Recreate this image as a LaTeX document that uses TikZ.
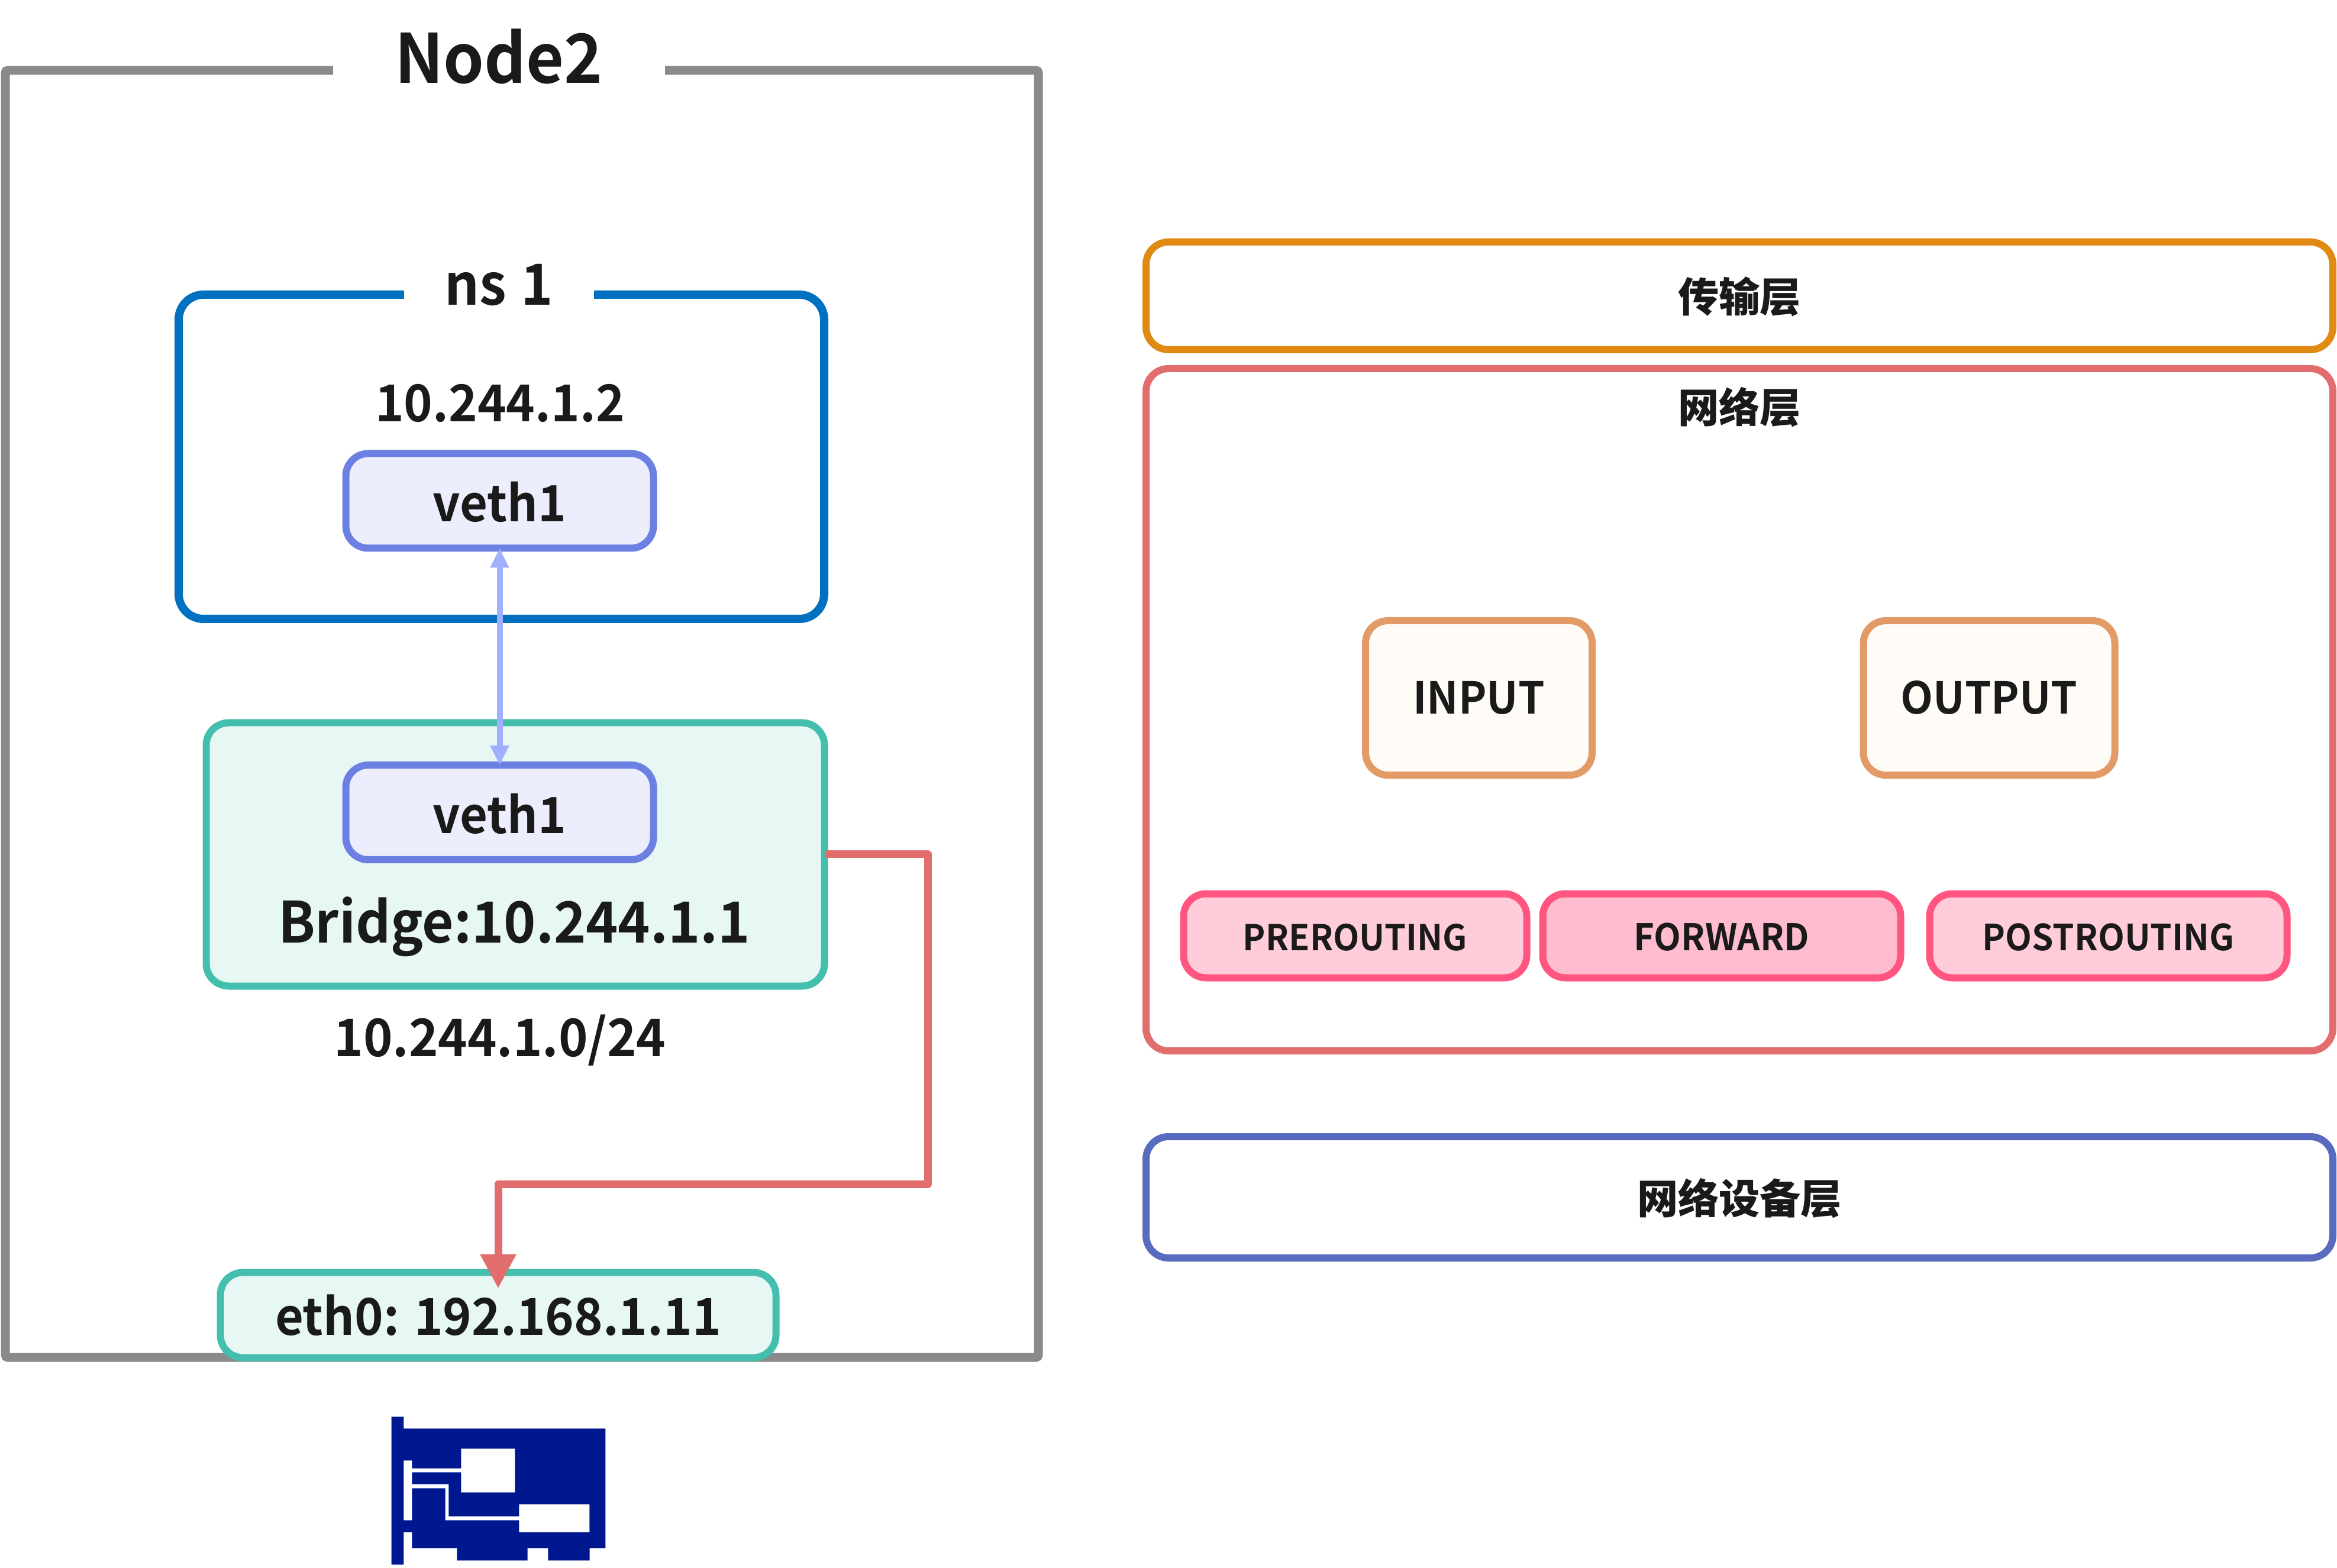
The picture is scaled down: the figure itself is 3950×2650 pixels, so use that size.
\documentclass[tikz,border=0pt]{standalone}
\usepackage{fontspec}
\setmainfont[BoldFont={Noto Sans CJK SC Bold},BoldFeatures={FakeStretch=0.96}]{Noto Sans CJK SC}
\newfontfamily\cjkfont{Noto Sans CJK SC}
\usetikzlibrary{arrows.meta}
\definecolor{inkc}{HTML}{1A1A1A}
\definecolor{framec}{HTML}{8A8A8A}
\definecolor{nsc}{HTML}{0070C0}
\definecolor{vethc}{HTML}{6C80E4}
\definecolor{vethf}{HTML}{ECEEFD}
\definecolor{tealc}{HTML}{45BFAD}
\definecolor{tealf}{HTML}{E7F7F3}
\definecolor{redc}{HTML}{E26D6D}
\definecolor{linkc}{HTML}{A0AFFF}
\definecolor{orangec}{HTML}{E08A14}
\definecolor{bluec}{HTML}{586BBE}
\definecolor{chainc}{HTML}{E29A66}
\definecolor{chainf}{HTML}{FFFCF7}
\definecolor{hookc}{HTML}{FF5580}
\definecolor{hookf}{HTML}{FFCCD9}
\definecolor{hookg}{HTML}{FFBCCE}
\definecolor{nicc}{HTML}{00188F}
\tikzset{
  txt/.style={text=inkc,font=\bfseries\fontsize{21.5}{26}\selectfont,inner sep=0pt,text depth=0pt,text height=#1*.25pt},
  txt/.default=63,
  rbox/.style={draw,outer sep=0pt,inner sep=0pt,line width=12*.25pt,rounded corners=38*.25pt},
  vethbox/.style={rbox,draw=vethc,fill=vethf,txt=71,font=\bfseries\fontsize{21.1}{26}\selectfont,minimum width=520*.25pt,minimum height=160*.25pt},
  tealbox/.style={rbox,draw=tealc,fill=tealf},
  chainbox/.style={rbox,draw=chainc,fill=chainf,txt=54,font=\bfseries\fontsize{18.6}{24}\selectfont,minimum height=261*.25pt},
  hookbox/.style={rbox,draw=hookc,fill=hookf,txt=49,font=\bfseries\fontsize{15}{20}\selectfont,minimum height=142*.25pt},
  layerbox/.style={rbox,line width=12*.25pt,minimum width=2006*.25pt},
  zh/.style={text=inkc,inner sep=0pt,font=\cjkfont\bfseries\fontsize{17.3}{21}\selectfont},
}
\begin{document}
\begin{tikzpicture}[x=.25pt,y=-.25pt]
\useasboundingbox (0,0) rectangle (3950,2650);
% Node2 frame
\node[draw=framec,line width=15*.25pt,rounded corners=4*.25pt,outer sep=0pt,inner sep=0pt,minimum width=1746*.25pt,minimum height=2175*.25pt] (frame) at (882,1206.5) {};
\node[fill=white,txt=82,font=\bfseries\fontsize{28.7}{34}\selectfont,text width=561*.25pt,align=center,inner ysep=10*.25pt] (nodetitle) at (843,100) {Node2};
% ns 1
\node[rbox,draw=nsc,line width=14*.25pt,rounded corners=42*.25pt,minimum width=1091*.25pt,minimum height=548*.25pt] (ns) at (847.5,772) {};
\node[fill=white,txt=72,font=\bfseries\fontsize{24}{30}\selectfont,text width=321*.25pt,align=center,inner ysep=10*.25pt] (nstitle) at (843,480) {ns\hspace{-2pt} 1};
\node[txt] (ipa) at (845,681) {10.244.1.2};
\node[vethbox] (vetha) at (844.5,846.5) {veth1};
% bridge
\node[tealbox,minimum width=1045*.25pt,minimum height=445*.25pt] (bridge) at (871,1444) {};
\node[vethbox] (vethb) at (844.5,1373) {veth1};
\node[txt=72,font=\bfseries\fontsize{24}{30}\selectfont] (bridgetxt) at (869,1557) {Bridge:10.244.1.1};
\node[txt=61,font=\bfseries\fontsize{21.9}{26}\selectfont] (subnet) at (845,1755) {10.244.1.0/24};
% link
\draw[linkc,line width=10*.25pt,{Triangle[length=33*.25pt,width=30*.25pt]}-{Triangle[length=33*.25pt,width=30*.25pt]}] (vetha.south) -- (vethb.north);
% eth0
\node[tealbox,txt=67,minimum width=939*.25pt,minimum height=144*.25pt] (eth) at (842,2222.5) {eth0: 192.168.1.11};
\coordinate (ra) at (1568,2001);
\draw[redc,line width=13*.25pt,line join=round,-{Triangle[length=58*.25pt,width=58*.25pt]},shorten >=-27*.25pt] (bridge.east) -| (ra) -| (eth.north);
% NIC icon
\begin{scope}[shift={(600,2300)},xscale=.33333,yscale=.33333]
\fill[nicc] (185,283)--(247,283)--(247,343)--(1270,343)--(1270,949)--(1190,949)--(1190,1012)--(979,1012)--(979,949)--(875,949)--(875,1012)--(517,1012)--(517,949)--(289,949)--(289,868)--(247,868)--(247,1033)--(185,1033)--cycle;
\fill[white] (247,505)--(289,505)--(289,545)--(538,545)--(538,445)--(811,445)--(811,667)--(538,667)--(538,565)--(289,565)--(289,625)--(475,625)--(475,788)--(832,788)--(832,727)--(1189,727)--(1189,868)--(832,868)--(832,808)--(458,808)--(458,646)--(289,646)--(289,808)--(247,808)--cycle;
\end{scope}
% layers
\node[layerbox,draw=orangec,minimum height=182*.25pt] (transport) at (2940,500) {};
\node[zh] (transporttxt) at (2940,501) {传输层};
\node[layerbox,draw=redc,minimum height=1153*.25pt] (network) at (2940,1199.5) {};
\node[zh] (networktxt) at (2940,688) {网络层};
\node[layerbox,draw=bluec,minimum height=205*.25pt] (device) at (2940,2023.5) {};
\node[zh] (devicetxt) at (2940,2025) {网络设备层};
% chains
\node[chainbox,minimum width=383*.25pt] (input) at (2499.5,1179.5) {INPUT};
\node[chainbox,minimum width=425*.25pt] (output) at (3362,1179.5) {OUTPUT};
\node[hookbox,minimum width=580*.25pt] (pre) at (2290.5,1581.5) {PREROUTING};
\node[hookbox,fill=hookg,font=\bfseries\fontsize{15.5}{20}\selectfont,minimum width=605*.25pt] (forward) at (2910,1581.5) {FORWARD};
\node[hookbox,font=\bfseries\fontsize{15.2}{20}\selectfont,minimum width=604*.25pt] (post) at (3563.5,1581.5) {POSTROUTING};
\end{tikzpicture}
\end{document}
